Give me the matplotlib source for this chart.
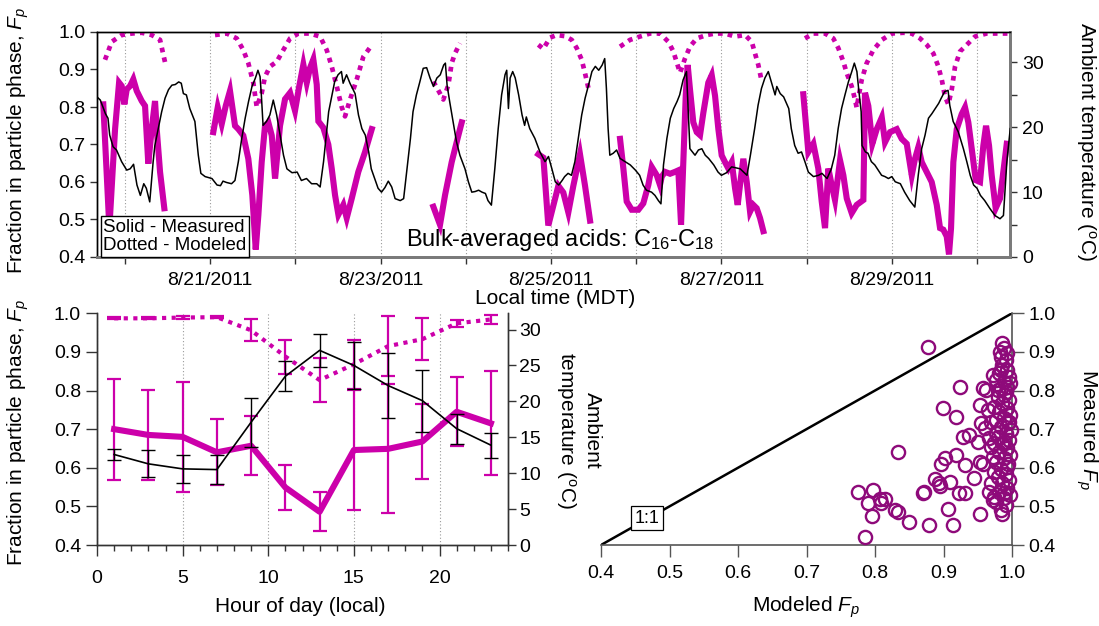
import numpy as np
import matplotlib
matplotlib.use('Agg')
import matplotlib.pyplot as plt
from matplotlib.ticker import MultipleLocator, FixedLocator, FormatStrFormatter

plt.rcParams['font.family'] = ['Liberation Sans', 'DejaVu Sans']
plt.rcParams['mathtext.fontset'] = 'custom'
plt.rcParams['mathtext.rm'] = 'Liberation Sans'
plt.rcParams['mathtext.it'] = 'Liberation Sans:italic'
plt.rcParams['mathtext.bf'] = 'Liberation Sans:bold'

MAG = '#cc00aa'
PURPLE = '#8e0a7a'
GRID = '#9a9a9a'

# ---- time series (x = day of August 2011, local time) ----
temp_day = [19.67, 19.71, 19.77, 19.80, 19.82, 19.86, 19.90, 19.96, 20.02, 20.06, 20.10, 20.14,
            20.18, 20.22, 20.25, 20.29, 20.33, 20.35, 20.39, 20.43, 20.47, 20.51, 20.55, 20.59,
            20.63, 20.66, 20.685, 20.72, 20.76, 20.82, 20.86, 20.89, 20.94, 21.02, 21.08, 21.12,
            21.15, 21.19, 21.25, 21.29, 21.33, 21.37, 21.41, 21.45, 21.49, 21.53, 21.56, 21.585,
            21.60, 21.62, 21.66, 21.70, 21.74, 21.78, 21.82, 21.86, 21.90, 21.96, 22.02, 22.07,
            22.13, 22.19, 22.25, 22.29, 22.33, 22.37, 22.39, 22.43, 22.46, 22.50, 22.54, 22.56,
            22.60, 22.64, 22.70, 22.74, 22.78, 22.82, 22.86, 22.89, 22.93, 22.97, 23.01, 23.05,
            23.09, 23.13, 23.17, 23.23, 23.27, 23.31, 23.35, 23.38, 23.42, 23.46, 23.50, 23.54,
            23.58, 23.62, 23.66, 23.70, 23.74, 23.76, 23.78, 23.81, 23.85, 23.89, 23.93, 23.99,
            24.03, 24.07, 24.11, 24.15, 24.19, 24.23, 24.26, 24.30, 24.34, 24.38, 24.42, 24.46,
            24.48, 24.50, 24.52, 24.55, 24.58, 24.62, 24.66, 24.69, 24.71, 24.75, 24.81, 24.87,
            24.93, 24.97, 25.01, 25.05, 25.09, 25.13, 25.16, 25.20, 25.24, 25.28, 25.32, 25.36,
            25.40, 25.44, 25.48, 25.52, 25.56, 25.60, 25.63, 25.65, 25.67, 25.69, 25.73, 25.77,
            25.81, 25.87, 25.93, 25.99, 26.04, 26.08, 26.12, 26.18, 26.22, 26.26, 26.29, 26.32,
            26.36, 26.40, 26.44, 26.48, 26.51, 26.55, 26.59, 26.63, 26.69, 26.73, 26.77, 26.81,
            26.85, 26.91, 26.96, 27.00, 27.06, 27.12, 27.22, 27.30, 27.34, 27.39, 27.43, 27.47,
            27.51, 27.55, 27.59, 27.63, 27.65, 27.69, 27.73, 27.79, 27.82, 27.86, 27.90, 27.94,
            27.98, 28.02, 28.08, 28.14, 28.18, 28.24, 28.29, 28.33, 28.37, 28.41, 28.45, 28.49,
            28.53, 28.56, 28.59, 28.61, 28.64, 28.65, 28.69, 28.72, 28.76, 28.80, 28.84, 28.88,
            28.92, 28.96, 29.00, 29.04, 29.10, 29.15, 29.21, 29.27, 29.31, 29.35, 29.39, 29.43,
            29.47, 29.51, 29.55, 29.58, 29.62, 29.66, 29.68, 29.72, 29.78, 29.84, 29.88, 29.92,
            29.96, 30.00, 30.04, 30.09, 30.15, 30.21, 30.27, 30.31, 30.35, 30.39]
temp_c = [24.7, 24.2, 22.1, 21.4, 18.8, 17.0, 16.5, 14.7, 13.4, 13.6, 14.3, 11.1,
          9.5, 11.3, 10.6, 8.5, 14.7, 17.2, 19.8, 22.4, 24.5, 25.8, 26.5, 26.6,
          27.0, 26.8, 25.2, 25.0, 22.9, 20.9, 15.7, 12.9, 12.4, 12.1, 11.1, 11.0,
          11.7, 11.5, 11.3, 11.8, 14.7, 18.3, 21.4, 24.0, 26.3, 27.6, 28.8, 27.8,
          25.0, 20.3, 20.9, 21.9, 24.2, 21.9, 18.8, 15.7, 13.6, 13.0, 13.1, 11.8,
          12.1, 11.3, 11.3, 10.8, 14.7, 19.8, 22.4, 25.0, 27.0, 28.1, 28.6, 26.8,
          28.1, 26.8, 25.2, 21.9, 19.8, 18.8, 16.2, 13.6, 12.1, 10.6, 10.0, 10.7,
          11.7, 10.8, 9.0, 8.7, 9.0, 13.6, 18.3, 22.4, 25.0, 27.0, 29.1, 29.2,
          27.6, 26.3, 27.6, 28.1, 29.6, 29.9, 26.5, 24.0, 20.9, 17.8, 15.7, 13.6,
          11.6, 10.0, 10.1, 10.3, 10.0, 9.8, 8.7, 8.0, 13.6, 19.8, 25.0, 28.1,
          28.8, 22.9, 27.6, 28.6, 27.6, 25.0, 21.9, 20.3, 21.6, 19.8, 18.3, 16.2,
          14.7, 15.5, 13.6, 11.6, 11.1, 11.8, 12.4, 12.9, 12.6, 14.7, 18.3, 21.9,
          24.5, 26.5, 28.6, 29.4, 28.8, 29.6, 30.6, 26.0, 19.8, 15.7, 16.0, 16.5,
          15.2, 14.7, 14.2, 13.4, 12.6, 11.1, 10.3, 10.0, 9.5, 8.7, 8.2, 14.2,
          18.3, 21.4, 22.9, 24.0, 25.0, 27.3, 28.6, 16.7, 15.7, 16.5, 16.7, 15.7,
          15.2, 14.2, 13.1, 12.6, 13.0, 13.9, 13.6, 12.6, 15.7, 19.8, 23.4, 26.0,
          27.6, 28.6, 26.8, 25.0, 26.3, 25.2, 24.7, 22.9, 19.8, 17.2, 16.0, 16.2,
          14.7, 13.1, 12.4, 12.6, 12.9, 12.1, 13.6, 15.7, 19.8, 22.9, 25.0, 27.0,
          28.6, 29.9, 28.6, 26.0, 22.4, 17.2, 16.2, 16.0, 14.7, 14.2, 13.4, 12.6,
          12.4, 12.1, 12.4, 11.6, 11.3, 10.0, 8.7, 7.7, 12.6, 16.7, 18.8, 21.4,
          22.1, 22.9, 23.7, 24.5, 25.5, 25.7, 23.4, 20.9, 19.3, 16.7, 14.7, 12.6,
          11.1, 10.6, 9.5, 8.7, 7.5, 6.4, 5.9, 6.4, 14.7, 19.8]

nan = np.nan
meas_day = [19.745, 19.816, 19.883, 19.930, 19.961, 19.992, 20.020, 20.059, 20.097, 20.137,
            20.196, 20.235, 20.273, 20.313, 20.352, 20.372, 20.411, 20.461, nan,
            21.036, 21.088, 21.135, 21.182, 21.232, 21.291, 21.330, 21.388, 21.447, 21.494,
            21.534, 21.565, 21.604, 21.643, 21.682, 21.722, 21.761, 21.819, 21.878, 21.937,
            21.995, 22.042, 22.093, 22.133, 22.171, 22.210, 22.250, 22.269, 22.327, 22.386,
            22.426, 22.465, 22.504, 22.562, 22.602, 22.661, 22.738, 22.817, 22.896, nan,
            23.619, 23.697, 23.756, 23.834, 23.912, 23.952, nan,
            24.851, 24.910, 24.968, 25.027, 25.086, 25.144, 25.203, 25.262, 25.340, 25.399,
            25.458, nan,
            25.810, 25.849, 25.888, 25.947, 26.025, 26.083, 26.142, 26.182, 26.241, 26.279,
            26.299, 26.338, 26.397, 26.455, 26.494, 26.526, 26.553, 26.581, 26.604, 26.631,
            26.670, 26.710, 26.749, 26.788, 26.846, 26.886, 26.925, 26.964, 27.003, 27.042,
            27.081, 27.121, 27.160, 27.191, 27.218, 27.257, 27.297, 27.336, 27.374, 27.414,
            27.453, 27.492, nan,
            27.961, 28.020, 28.079, 28.137, 28.177, 28.216, 28.255, 28.294, 28.333, 28.392,
            28.431, 28.471, 28.529, 28.588, 28.666, 28.685, 28.724, 28.771, 28.823, 28.882,
            28.920, 28.979, 29.058, 29.116, 29.175, 29.234, 29.272, 29.311, 29.351, 29.409,
            29.468, 29.527, 29.566, 29.604, 29.644, 29.671, 29.695, 29.722, 29.762, 29.820,
            29.859, 29.898, 29.938, 29.985, 30.035, 30.074, 30.106, 30.141, 30.172, 30.219,
            30.270, 30.309, 30.349]
meas_fp = [0.807, 0.477, 0.741, 0.865, 0.856, 0.807, 0.847, 0.856, 0.874, 0.843,
           0.816, 0.803, 0.649, 0.741, 0.816, 0.741, 0.627, 0.530, nan,
           0.733, 0.799, 0.755, 0.803, 0.843, 0.750, 0.741, 0.724, 0.662, 0.565,
           0.420, 0.512, 0.653, 0.750, 0.759, 0.724, 0.609, 0.750, 0.821, 0.838,
           0.790, 0.852, 0.913, 0.865, 0.904, 0.927, 0.860, 0.762, 0.745, 0.700,
           0.636, 0.565, 0.513, 0.539, 0.504, 0.556, 0.627, 0.680, 0.741, nan,
           0.534, 0.486, 0.565, 0.653, 0.724, 0.759, nan,
           0.674, 0.665, 0.484, 0.537, 0.590, 0.572, 0.519, 0.590, 0.674, 0.590,
           0.497, nan,
           0.715, 0.636, 0.548, 0.526, 0.526, 0.543, 0.592, 0.640, 0.618, 0.592,
           0.614, 0.627, 0.622, 0.627, 0.631, 0.486, 0.653, 0.830, 0.912, 0.847,
           0.759, 0.733, 0.725, 0.785, 0.865, 0.885, 0.830, 0.741, 0.671, 0.653,
           0.636, 0.653, 0.583, 0.539, 0.592, 0.662, 0.600, 0.521, 0.539, 0.530,
           0.504, 0.469, nan,
           0.834, 0.680, 0.702, 0.636, 0.548, 0.477, 0.636, 0.592, 0.552, 0.658,
           0.618, 0.556, 0.517, 0.539, 0.552, 0.838, 0.803, 0.702, 0.741, 0.772,
           0.706, 0.733, 0.741, 0.715, 0.702, 0.618, 0.662, 0.693, 0.653, 0.627,
           0.600, 0.539, 0.477, 0.473, 0.455, 0.407, 0.477, 0.653, 0.741, 0.781,
           0.799, 0.759, 0.689, 0.605, 0.600, 0.697, 0.750, 0.697, 0.618, 0.530,
           0.556, 0.627, 0.702]

model_day = [19.765, 19.844, 19.961, 20.079, 20.196, 20.313, 20.411, 20.450, 20.481, nan,
             21.056, 21.194, 21.311, 21.388, 21.447, 21.506, 21.546, 21.604, 21.643, 21.702,
             21.781, 21.858, 21.937, 22.034, 22.171, 22.289, 22.367, 22.426, 22.485, 22.543,
             22.582, 22.641, 22.719, 22.797, 22.896, nan,
             23.619, 23.736, 23.795, 23.834, 23.873, 23.932, nan,
             24.851, 24.910, 24.988, 25.067, 25.164, 25.243, 25.302, 25.360, 25.399, 25.438, nan,
             25.810, 25.927, 26.045, 26.162, 26.279, 26.377, 26.436, 26.514, 26.573, 26.631,
             26.710, 26.827, 26.925, 27.042, 27.160, 27.277, 27.356, 27.394, 27.433, 27.473, nan,
             27.981, 28.079, 28.216, 28.313, 28.372, 28.431, 28.471, 28.529, 28.568, 28.588,
             28.607, 28.647, 28.705, 28.783, 28.882, 28.999, 29.135, 29.234, 29.331, 29.410,
             29.487, 29.546, 29.586, 29.624, 29.663, 29.703, 29.742, 29.800, 29.898, 29.977,
             30.114, 30.270, 30.387]
model_fp = [0.926, 0.974, 0.992, 0.996, 0.998, 0.992, 0.979, 0.939, 0.908, nan,
            0.992, 0.996, 0.983, 0.952, 0.917, 0.864, 0.800, 0.837, 0.881, 0.908,
            0.921, 0.952, 0.983, 0.996, 0.996, 0.988, 0.952, 0.908, 0.855, 0.800,
            0.775, 0.820, 0.873, 0.934, 0.965, nan,
            0.868, 0.820, 0.859, 0.917, 0.943, 0.970, nan,
            0.966, 0.955, 0.985, 0.992, 0.989, 0.979, 0.957, 0.926, 0.890, 0.851, nan,
            0.961, 0.979, 0.988, 0.996, 0.996, 0.974, 0.948, 0.891, 0.930, 0.961,
            0.983, 0.992, 0.996, 0.996, 0.988, 0.992, 0.974, 0.943, 0.912, 0.868, nan,
            0.983, 0.996, 0.996, 0.983, 0.957, 0.921, 0.890, 0.855, 0.820, 0.798,
            0.824, 0.873, 0.917, 0.952, 0.979, 0.996, 0.998, 0.996, 0.983, 0.966,
            0.943, 0.908, 0.873, 0.828, 0.807, 0.846, 0.908, 0.948, 0.970, 0.988,
            0.996, 0.996, 0.996]

date_ticks = [21, 23, 25, 27, 29]
date_labels = ['8/21/2011', '8/23/2011', '8/25/2011', '8/27/2011', '8/29/2011']

# ---- diurnal averages ----
hours = [1, 3, 5, 7, 9, 11, 13, 15, 17, 19, 21, 23]
diurnal_meas = [0.700, 0.685, 0.680, 0.640, 0.657, 0.549, 0.486, 0.646, 0.649, 0.668, 0.745, 0.715]
diurnal_meas_err = [0.131, 0.116, 0.142, 0.085, 0.076, 0.058, 0.050, 0.155, 0.167, 0.097, 0.089, 0.135]
diurnal_model = [0.987, 0.987, 0.989, 0.990, 0.956, 0.888, 0.827, 0.868, 0.915, 0.933, 0.974, 0.984]
diurnal_model_err = [0.003, 0.003, 0.003, 0.003, 0.029, 0.044, 0.056, 0.063, 0.077, 0.054, 0.009, 0.012]
diurnal_temp = [12.6, 11.3, 10.6, 10.5, 17.1, 23.5, 27.1, 25.0, 22.2, 20.1, 16.2, 13.9]
diurnal_temp_err = [0.8, 1.9, 1.9, 2.0, 3.4, 2.1, 2.3, 3.3, 4.5, 4.3, 2.1, 1.75]

# ---- modeled vs measured ----
scatter_model = [0.877, 0.924, 0.899, 0.918, 0.833, 0.775, 0.797, 0.790, 0.795, 0.785,
                 0.807, 0.814, 0.809, 0.829, 0.833, 0.849, 0.879, 0.870, 0.872, 0.887,
                 0.894, 0.895, 0.909, 0.906, 0.914, 0.923, 0.931, 0.897, 0.902, 0.918,
                 0.931, 0.944, 0.928, 0.937, 0.953, 0.953, 0.957, 0.950, 0.955, 0.953,
                 0.958, 0.962, 0.965, 0.960, 0.967, 0.970, 0.967, 0.974, 0.972, 0.977,
                 0.970, 0.986, 0.989, 0.984, 0.991, 0.986, 0.993, 0.981, 0.995, 0.989,
                 0.997, 0.984, 0.991, 0.979, 0.995, 0.986, 0.992, 0.981, 0.997, 0.989,
                 0.977, 0.994, 0.984, 0.999, 0.991, 0.979, 0.995, 0.986, 0.992, 0.981,
                 0.997, 0.989, 0.977, 0.994, 0.984, 0.991, 0.979, 0.995, 0.986, 0.992,
                 0.981, 0.997, 0.989, 0.977, 0.991, 0.984, 0.986, 0.972, 0.970, 0.974,
                 0.972, 0.974, 0.977, 0.974, 0.979, 0.983, 0.993, 0.989, 0.989, 0.993,
                 0.989, 0.995, 0.984, 0.993]
scatter_meas = [0.912, 0.810, 0.754, 0.732, 0.640, 0.538, 0.542, 0.508, 0.476, 0.420,
                0.518, 0.518, 0.508, 0.490, 0.486, 0.459, 0.452, 0.534, 0.538, 0.570,
                0.561, 0.553, 0.564, 0.493, 0.452, 0.534, 0.534, 0.610, 0.624, 0.633,
                0.607, 0.573, 0.680, 0.685, 0.480, 0.616, 0.611, 0.668, 0.715, 0.763,
                0.806, 0.801, 0.750, 0.702, 0.676, 0.655, 0.538, 0.525, 0.840, 0.827,
                0.719, 0.922, 0.909, 0.888, 0.879, 0.866, 0.853, 0.845, 0.836, 0.823,
                0.819, 0.806, 0.797, 0.784, 0.775, 0.767, 0.754, 0.745, 0.737, 0.728,
                0.724, 0.715, 0.706, 0.698, 0.689, 0.680, 0.672, 0.663, 0.650, 0.642,
                0.633, 0.624, 0.616, 0.611, 0.598, 0.585, 0.577, 0.568, 0.560, 0.547,
                0.538, 0.529, 0.521, 0.512, 0.503, 0.490, 0.480, 0.516, 0.560, 0.590,
                0.629, 0.663, 0.689, 0.758, 0.801, 0.901, 0.896, 0.788, 0.668, 0.603,
                0.534, 0.719, 0.853, 0.810]

FP_LABEL = r'Fraction in particle phase, $F_p$'
TICK_FS = 14
LABEL_FS = 15

W, H = 1099, 626
fig = plt.figure(figsize=(W / 100, H / 100), dpi=100)


def axes_px(left, top, right, bottom):
    return fig.add_axes([left / W, 1 - bottom / H, (right - left) / W, (bottom - top) / H])


def label_px(x, y, s, rot=90, **kw):
    fig.text(x / W, 1 - y / H, s, rotation=rot, ha='center', va='center',
             fontsize=LABEL_FS, **kw)


# ================= top: time series =================
ax = axes_px(97, 32, 1010, 257)
axt = ax.twinx()
ax.set_xlim(19.671, 30.387)
ax.set_ylim(0.4, 1.0)
axt.set_ylim(0, 34.7)

ax.plot(meas_day, meas_fp, color=MAG, lw=4.4, solid_joinstyle='miter', zorder=3)
ax.plot(model_day, model_fp, color=MAG, lw=3.4, ls=(0, (1, 1.1)), zorder=3)
axt.plot(temp_day, temp_c, color='black', lw=1.1, zorder=4)

ax.xaxis.set_major_locator(FixedLocator(date_ticks))
ax.set_xticklabels(date_labels)
ax.xaxis.set_minor_locator(MultipleLocator(1))
ax.yaxis.set_major_locator(MultipleLocator(0.1))
ax.yaxis.set_major_formatter(FormatStrFormatter('%.1f'))
axt.yaxis.set_major_locator(MultipleLocator(10))
axt.yaxis.set_minor_locator(MultipleLocator(5))
ax.grid(True, axis='x', which='both', color=GRID, lw=0.8, ls=(0, (1, 2)))
ax.set_axisbelow(True)

ax.tick_params(axis='both', which='both', direction='out', length=5, width=1,
               labelsize=TICK_FS, colors='#333333', labelcolor='black')
ax.tick_params(axis='x', which='major', pad=6)
axt.tick_params(axis='y', which='both', direction='out', length=5, width=1,
                labelsize=TICK_FS, colors='#333333', labelcolor='black')

for a in (ax, axt):
    a.spines['bottom'].set_color('#7a7a7a')
    a.spines['bottom'].set_linewidth(2.0)
    a.spines['right'].set_color('#7a7a7a')
    a.spines['right'].set_linewidth(2.0)
    a.spines['top'].set_linewidth(1.0)
    a.spines['left'].set_linewidth(1.0)

axt.text(0.007, 0.012, 'Solid - Measured\nDotted - Modeled', transform=ax.transAxes,
         fontsize=13.5, ha='left', va='bottom', linespacing=1.1, zorder=10,
         bbox=dict(boxstyle='square,pad=0.15', fc='white', ec='black', lw=1.0))
axt.text(0.507, 0.075, r'Bulk-averaged acids: C$_{16}$-C$_{18}$', transform=ax.transAxes,
         fontsize=17, ha='center', va='center', zorder=10)

label_px(18, 140, FP_LABEL)
label_px(1086, 142, r'Ambient temperature ($^\mathrm{o}$C)', rot=270)
label_px(555, 298, 'Local time (MDT)', rot=0)

# ================= bottom left: diurnal profile =================
bx = axes_px(97, 313.3, 508, 545)
bxt = bx.twinx()
bx.set_xlim(0, 24)
bx.set_ylim(0.4, 1.0)
bxt.set_ylim(0, 32.26)

bx.errorbar(hours, diurnal_meas, yerr=diurnal_meas_err, color=MAG, lw=4.4,
            elinewidth=1.6, capsize=4.8, capthick=1.6, zorder=3)
bx.errorbar(hours, diurnal_model, yerr=diurnal_model_err, color=MAG, lw=3.0,
            ls=(0, (1, 1.3)), elinewidth=1.6, capsize=4.8, capthick=1.6, zorder=3)
bxt.errorbar(hours, diurnal_temp, yerr=diurnal_temp_err, color='black', lw=1.2,
             elinewidth=1.0, capsize=4.8, capthick=1.0, zorder=4)

bx.xaxis.set_major_locator(MultipleLocator(5))
bx.xaxis.set_minor_locator(MultipleLocator(1))
bx.yaxis.set_major_locator(MultipleLocator(0.1))
bx.yaxis.set_major_formatter(FormatStrFormatter('%.1f'))
bxt.yaxis.set_major_locator(MultipleLocator(5))
bx.grid(True, axis='x', which='major', color=GRID, lw=0.8, ls=(0, (1, 2)))
bx.set_axisbelow(True)
bx.tick_params(axis='both', which='major', direction='out', length=8, width=1,
               labelsize=TICK_FS, colors='#333333', labelcolor='black')
bx.tick_params(axis='x', which='minor', direction='out', length=4.5, width=1, colors='#333333')
bx.tick_params(axis='x', which='major', pad=10)
bxt.tick_params(axis='y', direction='out', length=6, width=1, labelsize=TICK_FS,
                colors='#333333', labelcolor='black', pad=2)
for a in (bx, bxt):
    a.spines['top'].set_visible(False)
    for s in ('left', 'right', 'bottom'):
        a.spines[s].set_color('#333333')
        a.spines[s].set_linewidth(1.0)

label_px(18, 432, FP_LABEL)
label_px(300, 607, 'Hour of day (local)', rot=0)
label_px(578, 430, 'Ambient\ntemperature ($^\\mathrm{o}$C)', rot=270, linespacing=1.3)

# ================= bottom right: modeled vs measured =================
cx = axes_px(601, 313.3, 1012, 545)
cx.set_xlim(0.4, 1.0)
cx.set_ylim(0.4, 1.0)
cx.plot(cx.get_xlim(), cx.get_ylim(), color='black', lw=1.8, zorder=2)
cx.plot(scatter_model, scatter_meas, 'o', ms=9.5, mfc='none', mec=PURPLE, mew=1.7,
        zorder=3, clip_on=False)
cx.text(0.467, 0.469, '1:1', fontsize=13, ha='center', va='center', zorder=4,
        bbox=dict(boxstyle='square,pad=0.2', fc='white', ec='black', lw=0.9))

cx.xaxis.set_major_locator(MultipleLocator(0.1))
cx.yaxis.set_major_locator(MultipleLocator(0.1))
cx.xaxis.set_major_formatter(FormatStrFormatter('%.1f'))
cx.yaxis.set_major_formatter(FormatStrFormatter('%.1f'))
cx.yaxis.tick_right()
cx.tick_params(axis='both', direction='out', length=8.5, width=1, labelsize=TICK_FS,
               colors='#555555', labelcolor='black')
cx.tick_params(axis='x', pad=6)
cx.spines['top'].set_visible(False)
cx.spines['left'].set_visible(False)
for s in ('right', 'bottom'):
    cx.spines[s].set_color('#555555')
    cx.spines[s].set_linewidth(1.2)

label_px(806, 607, r'Modeled $F_p$', rot=0)
label_px(1087, 430, r'Measured $F_p$', rot=270)

fig.savefig('out.png', dpi=100)
